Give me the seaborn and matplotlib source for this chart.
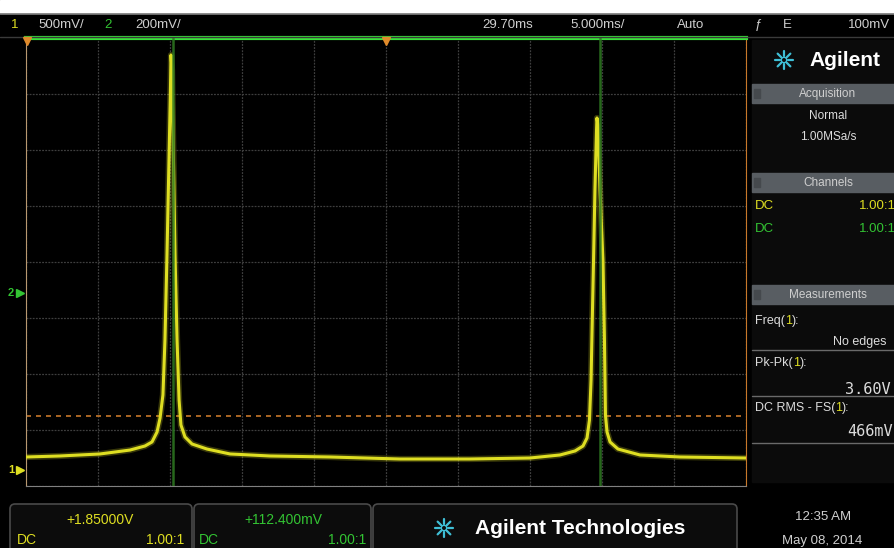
import numpy as np
import pandas as pd
import matplotlib.pyplot as plt
import seaborn as sns
from matplotlib.patches import Rectangle, FancyBboxPatch

# ----------------------------------------------------------
# Data (time in ms, channel 1 in V)
# ----------------------------------------------------------

time_ms = [4.70, 7.06, 9.84, 11.92, 12.96, 13.45, 13.80, 14.01, 14.21, 14.35,
           14.49, 14.63, 14.73, 14.77, 14.84, 14.94, 15.05, 15.19, 15.33, 15.46,
           15.74, 16.23, 17.27, 18.87, 21.64, 25.81, 30.67, 35.53, 39.70, 41.78,
           42.83, 43.38, 43.66, 43.83, 43.94, 44.01, 44.11, 44.21, 44.32, 44.35,
           44.42, 44.56, 44.77, 44.87, 44.94, 45.05, 45.26, 45.81, 47.34, 50.12,
           54.70]
ch1_volts = [0.109, 0.118, 0.136, 0.171, 0.207, 0.243, 0.332, 0.457, 0.663, 1.154,
             1.913, 2.761, 3.386, 3.698, 3.564, 2.761, 1.913, 1.154, 0.618, 0.395,
             0.288, 0.225, 0.180, 0.136, 0.118, 0.109, 0.091, 0.091, 0.100, 0.127,
             0.163, 0.207, 0.279, 0.439, 0.796, 1.243, 1.850, 2.493, 3.029, 3.136,
             3.073, 2.493, 1.850, 1.154, 0.484, 0.332, 0.243, 0.180, 0.127, 0.109,
             0.100]

cursor_times = [14.91, 44.56]
trigger_level = 0.475

t_center, t_div = 29.70, 5.0
v_offset, v_div = 1.85, 0.5

top_labels = ["500mV/", "200mV/", "29.70ms", "5.000ms/", "Auto", "ƒ", "E", "100mV"]
meas_names = ["Freq(", "Pk-Pk(", "DC RMS - FS("]
meas_values = ["No edges", "3.60V", "466mV"]

df = pd.DataFrame({"time_ms": time_ms, "volts": ch1_volts})

# ----------------------------------------------------------
# Style
# ----------------------------------------------------------

sns.set_style("dark")
plt.rcParams["font.family"] = ["Liberation Sans Narrow", "Liberation Sans", "DejaVu Sans"]

YEL = "#dede22"
GRN = "#33c433"
GREY_TXT = "#cfcfcf"
BAR = "#585d62"

fig = plt.figure(figsize=(8.95, 5.48), dpi=100, facecolor="black")

# ----------------------------------------------------------
# Graticule + trace
# ----------------------------------------------------------

ax = fig.add_axes([26 / 895, 62 / 548, 720 / 895, 448 / 548])
ax.set_facecolor("black")
ax.set_xlim(t_center - 5 * t_div, t_center + 5 * t_div)
ax.set_ylim(v_offset - 4 * v_div, v_offset + 4 * v_div)
ax.set_xticks(np.arange(t_center - 5 * t_div, t_center + 5 * t_div + 0.01, t_div))
ax.set_yticks(np.arange(v_offset - 4 * v_div, v_offset + 4 * v_div + 0.01, v_div))
ax.grid(True, color="#3e3e3e", linestyle=(0, (1.5, 1)), linewidth=0.9)
ax.tick_params(length=0, labelbottom=False, labelleft=False)
for side in ["left", "right", "top", "bottom"]:
    ax.spines[side].set_visible(True)
ax.spines["left"].set_color("#b89870")
ax.spines["left"].set_linestyle((0, (2, 1)))
ax.spines["right"].set_color("#c8782a")
ax.spines["bottom"].set_color("#808080")
ax.spines["top"].set_color("#38e038")
ax.spines["top"].set_linewidth(3)

ax.axhline(trigger_level, color="#c8782a", linestyle=(0, (3, 3)), linewidth=1.2, zorder=2)

sns.lineplot(data=df, x="time_ms", y="volts", ax=ax, color=YEL, linewidth=4.5,
             alpha=0.25, sort=False, estimator=None, zorder=3)
sns.lineplot(data=df, x="time_ms", y="volts", ax=ax, color=YEL, linewidth=2.2,
             sort=False, estimator=None, zorder=4)

for t in cursor_times:
    ax.axvline(t, color="#2e7a22", linewidth=1.8, alpha=0.85, zorder=5)
ax.set_xlabel("")
ax.set_ylabel("")

# ----------------------------------------------------------
# Screen furniture in pixel coordinates
# ----------------------------------------------------------

ov = fig.add_axes([0, 0, 1, 1])
ov.set_xlim(0, 895)
ov.set_ylim(548, 0)
ov.axis("off")
ov.patch.set_alpha(0)
ov.set_zorder(3)


def spark(cx, cy, r):
    for a in np.linspace(0, 2 * np.pi, 8, endpoint=False):
        ov.plot([cx + 0.4 * r * np.cos(a), cx + r * np.cos(a)],
                [cy + 0.4 * r * np.sin(a), cy + r * np.sin(a)],
                color="#3fbfd6", linewidth=1.6, solid_capstyle="round")
    ov.add_patch(plt.Circle((cx, cy), 0.3 * r, fill=False, edgecolor="#3fbfd6", linewidth=1))


# white strip + header bar
ov.add_patch(Rectangle((0, 0), 895, 13, color="white"))
ov.plot([0, 895], [14, 14], color="#777777", linewidth=1.2)
ov.plot([0, 895], [37, 37], color="#3a3a3a", linewidth=1.0)

ov.text(15, 25, "1", color=YEL, fontsize=9.5, va="center", ha="center")
ov.text(38, 25, top_labels[0], color=GREY_TXT, fontsize=9.5, va="center")
ov.text(108, 25, "2", color=GRN, fontsize=9.5, va="center", ha="center")
ov.text(135, 25, top_labels[1], color=GREY_TXT, fontsize=9.5, va="center")
ov.text(482, 25, top_labels[2], color=GREY_TXT, fontsize=9.5, va="center")
ov.text(570, 25, top_labels[3], color=GREY_TXT, fontsize=9.5, va="center")
ov.text(677, 25, top_labels[4], color=GREY_TXT, fontsize=9.5, va="center")
ov.text(758, 25, top_labels[5], color=GREY_TXT, fontsize=9.5, va="center", ha="center")
ov.text(787, 25, top_labels[6], color=GREY_TXT, fontsize=9.5, va="center", ha="center")
ov.text(848, 25, top_labels[7], color=GREY_TXT, fontsize=9.5, va="center")

# trigger / time reference markers
ov.plot([27, 386], [41, 41], linestyle="none", marker="v", color="#e08a2a", markersize=6)

# ground markers
ov.text(11, 293, "2", color=GRN, fontsize=8, va="center", ha="center", fontweight="bold")
ov.plot([20], [293], marker=">", color=GRN, markersize=6)
ov.text(11, 470, "1", color=YEL, fontsize=8, va="center", ha="center", fontweight="bold")
ov.plot([20], [470], marker=">", color=YEL, markersize=6)

# right panel
ov.add_patch(Rectangle((752, 40), 143, 442, color="#0b0b0b"))
spark(784, 60, 9)
ov.text(809, 60, "Agilent", color="white", fontsize=15, fontweight="bold", va="center",
        family=["Liberation Sans", "DejaVu Sans"])

for y0, label in [(84, "Acquisition"), (173, "Channels"), (285, "Measurements")]:
    ov.add_patch(Rectangle((752, y0), 143, 19, color=BAR))
    ov.add_patch(Rectangle((754, y0 + 5), 6, 9, color="#45494d"))
    ov.text(828, y0 + 9.5, label, color=GREY_TXT, fontsize=8.5, va="center", ha="center")

ov.text(828, 116, "Normal", color="#dcdcdc", fontsize=8.5, va="center", ha="center")
ov.text(828, 137, "1.00MSa/s", color="#dcdcdc", fontsize=8.5, va="center", ha="center")

ov.text(755, 206, "DC", color=YEL, fontsize=9.5, va="center")
ov.text(859, 206, "1.00:1", color=YEL, fontsize=9.5, va="center")
ov.text(755, 229, "DC", color=GRN, fontsize=9.5, va="center")
ov.text(859, 229, "1.00:1", color=GRN, fontsize=9.5, va="center")

meas_y = [321, 363, 408]
val_x = [833, 845, 847]
val_y = [342, 389, 431]
for name, val, y, vx, vy in zip(meas_names, meas_values, meas_y, val_x, val_y):
    t0 = ov.text(755, y, name, color="#dcdcdc", fontsize=9, va="center")
    t1 = ov.annotate("1", xy=(1, 0), xycoords=t0, va="bottom", ha="left",
                     color=YEL, fontsize=9)
    ov.annotate("):", xy=(1, 0), xycoords=t1, va="bottom", ha="left",
                color="#dcdcdc", fontsize=9)
    mono = val != "No edges"
    ov.text(vx, vy, val, color="#dcdcdc", fontsize=11 if mono else 9, va="center",
            family=["DejaVu Sans Mono"] if mono else None)
for y in [350, 396, 443]:
    ov.plot([752, 895], [y, y], color="#6a6a6a", linewidth=1)

# bottom status boxes
for x0, x1 in [(10, 192), (194, 371), (373, 737)]:
    ov.add_patch(FancyBboxPatch((x0, 504), x1 - x0, 60,
                                boxstyle="round,pad=0,rounding_size=5",
                                facecolor="#0c0c0c", edgecolor="#4a4a4a", linewidth=1.2))

ov.text(100, 520, "+1.85000V", color=YEL, fontsize=10, va="center", ha="center")
ov.text(17, 540, "DC", color=YEL, fontsize=10, va="center")
ov.text(184, 540, "1.00:1", color=YEL, fontsize=10, va="center", ha="right")
ov.text(283, 520, "+112.400mV", color=GRN, fontsize=10, va="center", ha="center")
ov.text(199, 540, "DC", color=GRN, fontsize=10, va="center")
ov.text(366, 540, "1.00:1", color=GRN, fontsize=10, va="center", ha="right")

spark(444, 528, 9)
ov.text(475, 528, "Agilent Technologies", color="white", fontsize=15, fontweight="bold",
        va="center")

ov.text(823, 517, "12:35 AM", color=GREY_TXT, fontsize=9.5, va="center", ha="center")
ov.text(822, 541, "May 08, 2014", color=GREY_TXT, fontsize=9.5, va="center", ha="center")

fig.savefig("out.png", dpi=100, facecolor="black")
plt.close()
